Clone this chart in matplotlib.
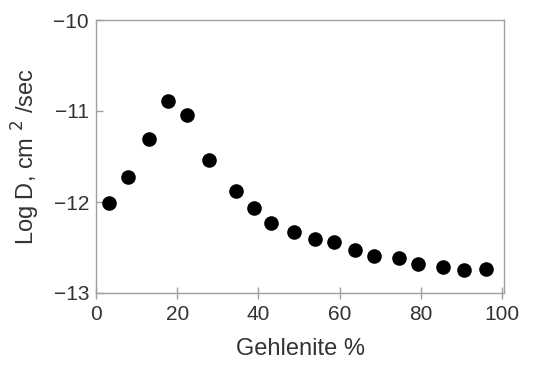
import matplotlib
matplotlib.use("Agg")
import matplotlib.pyplot as plt

# Gehlenite content (%) and diffusion coefficient (log D, cm^2/sec)
gehlenite = [3.2, 7.9, 13.1, 17.7, 22.4, 27.9, 34.6, 38.8, 43.2, 48.7,
             53.9, 58.6, 63.9, 68.6, 74.6, 79.4, 85.5, 90.6, 96.0]
log_d = [-12.01, -11.72, -11.31, -10.89, -11.04, -11.54, -11.88, -12.07, -12.23, -12.33,
         -12.41, -12.44, -12.53, -12.59, -12.62, -12.68, -12.71, -12.75, -12.74]

x_ticks = [0, 20, 40, 60, 80, 100]
y_ticks = [-13, -12, -11, -10]

GREY = "#a0a0a0"
TXT = "#333333"
plt.rcParams["font.family"] = ["Liberation Sans", "DejaVu Sans"]

fig = plt.figure(figsize=(5.43, 3.66), dpi=100)
ax = fig.add_axes([96 / 543, 1 - 293 / 366, 408 / 543, 273 / 366])

ax.plot(gehlenite, log_d, "o", color="black", markersize=10.5, markeredgewidth=0)

ax.set_xlim(0, 100.5)
ax.set_ylim(-13, -10)
ax.set_xticks(x_ticks)
ax.set_yticks(y_ticks)
ax.set_yticklabels(["\u221213", "\u221212", "\u221211", "\u221210"])

for s in ax.spines.values():
    s.set_color(GREY)
    s.set_linewidth(1.0)
ax.tick_params(axis="x", direction="inout", length=9, width=1, color=GREY,
               labelsize=15, pad=4, labelcolor=TXT)
ax.tick_params(axis="y", direction="in", length=5, width=1, color=GREY,
               labelsize=15, pad=5, labelcolor=TXT)

ax.set_xlabel("Gehlenite %", fontsize=17, color=TXT, labelpad=10)
ax.set_ylabel("Log D, cm ${}^{2}$ /sec", fontsize=17, color=TXT, labelpad=8)

fig.savefig("out.png", dpi=100)
